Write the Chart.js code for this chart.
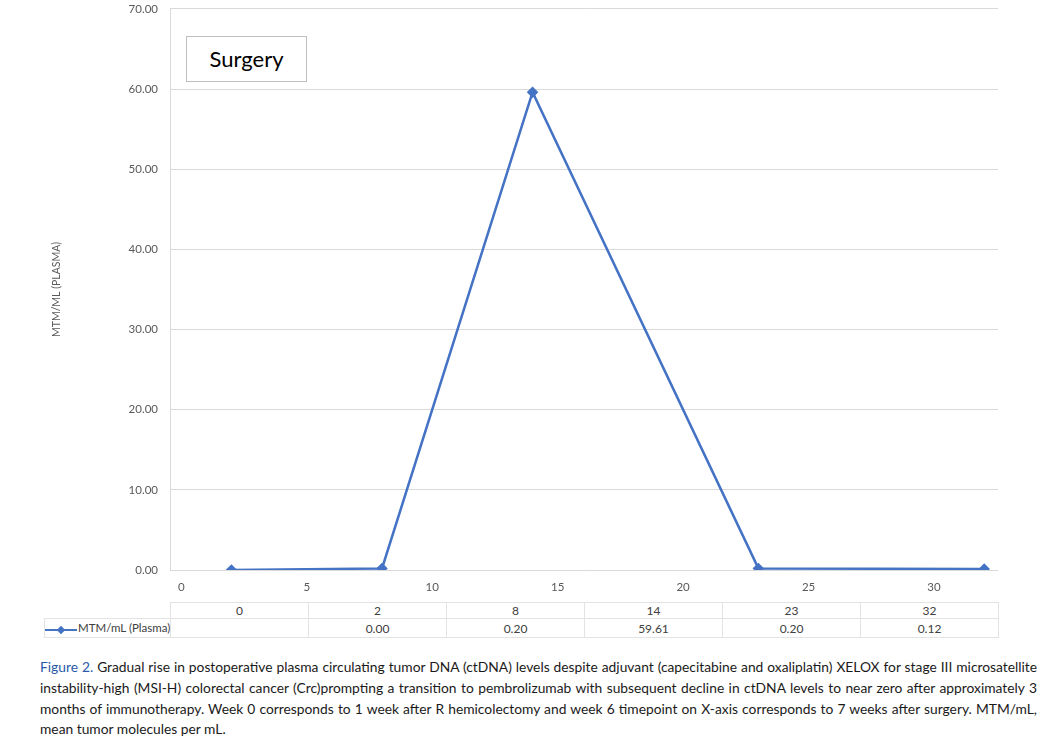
<!DOCTYPE html>
<html>
<head>
<meta charset="utf-8">
<script src="https://cdn.jsdelivr.net/npm/chart.js@4"></script>
<style>
  body { margin: 0; background: #fff; font-family: Lato, "Open Sans", sans-serif; }
  #wrap { position: relative; width: 1045px; height: 738px; overflow: hidden; }
  #chartBox { position: absolute; left: 0; top: -10px; width: 1045px; height: 610px; }
  #surgery {
    position: absolute; left: 186px; top: 36px; width: 121px; height: 46px;
    border: 1px solid #bfbfbf; background: #fff; box-sizing: border-box;
    font: 22px Lato, sans-serif; color: #000; text-align: center; line-height: 44px;
  }
  table#dt { position: absolute; left: 44px; top: 602px; border-collapse: collapse; table-layout: fixed; width: 955px; font: 12px Lato, sans-serif; color: #404040; }
  #dt td { border: 1px solid #e3e3e3; padding: 0; text-align: center; overflow: hidden; }
  #dt td.leg { text-align: left; white-space: nowrap; font-size: 11.5px; overflow: visible; }
  #dt tr:first-child td { height: 14px; }
  #dt tr:nth-child(2) td { height: 18px; }
  #dt td.empty { border-top: none; border-left: none; }
  .mk { display: inline-block; position: relative; width: 32px; height: 10px; vertical-align: middle; margin-right: 1px; }
  .mk::before { content: ""; position: absolute; left: 0; right: 0; top: 4px; height: 2px; background: #4472c4; }
  .mk::after { content: ""; position: absolute; left: 13px; top: 2px; width: 6px; height: 6px; background: #4472c4; transform: rotate(45deg); }
  #caption { position: absolute; left: 40px; top: 657px; width: 997px; font: 13.8px Lato, sans-serif; line-height: 20.8px; color: #1a1a1a; }
  #caption div { white-space: nowrap; text-align: justify; text-align-last: justify; }
  #caption div.last { text-align-last: left; }
  #caption b { color: #2a5aa8; font-weight: normal; }
</style>
</head>
<body>
<div id="wrap">
  <div id="chartBox"><canvas id="c"></canvas></div>
  <div id="surgery">Surgery</div>
  <table id="dt"></table>
  <div id="caption">
    <div><b>Figure 2.</b> Gradual rise in postoperative plasma circulating tumor DNA (ctDNA) levels despite adjuvant (capecitabine and oxaliplatin) XELOX for stage III microsatellite</div>
    <div>instability-high (MSI-H) colorectal cancer (Crc)prompting a transition to pembrolizumab with subsequent decline in ctDNA levels to near zero after approximately 3</div>
    <div>months of immunotherapy. Week 0 corresponds to 1 week after R hemicolectomy and week 6 timepoint on X-axis corresponds to 7 weeks after surgery. MTM/mL,</div>
    <div class="last">mean tumor molecules per mL.</div>
  </div>
</div>
<script>
const SERIES_NAME = 'MTM/mL (Plasma)';
const weeks = [2, 8, 14, 23, 32];
const mtm = [0.00, 0.20, 59.61, 0.20, 0.12];
const tableHeaders = ['0', '2', '8', '14', '23', '32'];
const xTicks = [0, 5, 10, 15, 20, 25, 30];
const yTicks = [0, 10, 20, 30, 40, 50, 60, 70];

const BLUE = '#4472c4';
const GRID = '#d9d9d9';
const TXT = '#595959';

// data table under the plot (values shifted one column, as in the original sheet)
const dt = document.getElementById('dt');
let cols = '<colgroup><col style="width:126px">' + tableHeaders.map(() => '<col style="width:138px">').join('') + '</colgroup>';
let row1 = '<tr><td class="empty leg"></td>' + tableHeaders.map(h => `<td>${h}</td>`).join('') + '</tr>';
const cells = [''].concat(mtm.map(v => v.toFixed(2)));
let row2 = `<tr><td class="leg"><span class="mk"></span>${SERIES_NAME}</td>` + cells.map(v => `<td>${v}</td>`).join('') + '</tr>';
dt.innerHTML = cols + row1 + row2;

new Chart(document.getElementById('c'), {
  type: 'line',
  data: {
    datasets: [{
      label: SERIES_NAME,
      data: weeks.map((w, i) => ({ x: w, y: mtm[i] })),
      borderColor: BLUE,
      backgroundColor: BLUE,
      borderWidth: 2.5,
      pointStyle: 'rectRot',
      pointRadius: 4,
      tension: 0
    }]
  },
  options: {
    responsive: true,
    maintainAspectRatio: false,
    animation: false,
    layout: { padding: { left: 50, right: 47, top: 2, bottom: 6 } },
    plugins: { legend: { display: false }, tooltip: { enabled: false } },
    scales: {
      x: {
        type: 'linear',
        min: -0.45,
        max: 32.55,
        afterBuildTicks: s => { s.ticks = xTicks.map(v => ({ value: v })); },
        afterFit: s => { s.height = 24; },
        grid: { display: false, drawTicks: false },
        border: { display: false },
        ticks: { color: TXT, padding: 10, font: { family: 'Lato', size: 11.5 }, maxRotation: 0 }
      },
      y: {
        min: 0,
        max: 70,
        afterBuildTicks: s => { s.ticks = yTicks.map(v => ({ value: v })); },
        afterFit: s => { s.width = 120; },
        grid: { color: GRID, drawTicks: false },
        border: { color: GRID },
        ticks: { color: TXT, padding: 12, font: { family: 'Lato', size: 11.5 }, callback: v => v.toFixed(2) },
        title: { display: true, text: 'MTM/ML (PLASMA)', color: TXT, font: { family: 'Lato', size: 10.5 }, padding: 0 }
      }
    }
  }
});
</script>
</body>
</html>
